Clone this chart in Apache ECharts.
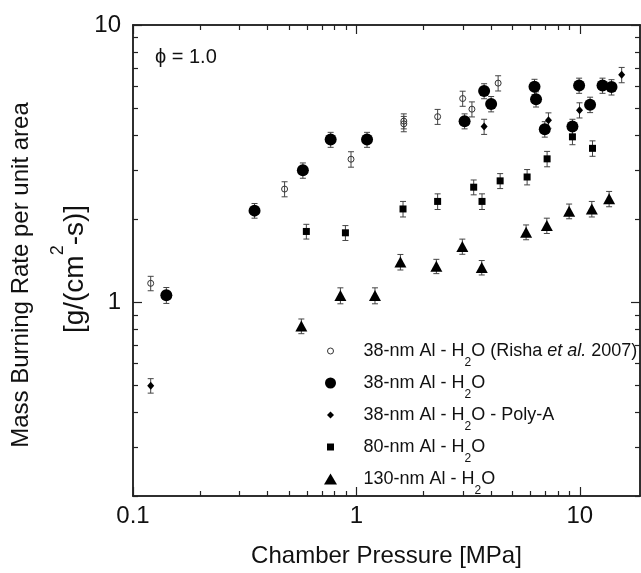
<!DOCTYPE html>
<html>
<head>
<meta charset="utf-8">
<script src="https://cdn.jsdelivr.net/npm/echarts@6/dist/echarts.min.js"></script>
<style>
html,body{margin:0;padding:0;background:#fff;}
#chart{width:641px;height:573px;}
</style>
</head>
<body>
<div id="chart"></div>
<script>
// ---- data (pressure in MPa, mass burning rate in g/(cm2-s)) ----
const rishaX   = [0.12, 0.477, 0.946, 1.63, 1.63, 2.31, 2.99, 3.29, 4.31];
const rishaY   = [1.17, 2.56, 3.28, 4.50, 4.40, 4.67, 5.43, 4.97, 6.17];
const rishaErr = [0.07, 0.16, 0.21, 0.28, 0.28, 0.29, 0.34, 0.31, 0.39];

const al38X   = [0.141, 0.35, 0.576, 0.767, 1.116, 3.05, 3.73, 4.01, 6.27, 6.37, 6.97, 9.27, 9.93, 11.12, 12.64, 13.87];
const al38Y   = [1.06, 2.14, 2.99, 3.86, 3.86, 4.50, 5.78, 5.19, 5.99, 5.40, 4.21, 4.30, 6.05, 5.16, 6.05, 5.97];
const al38Err = [0.07, 0.13, 0.19, 0.24, 0.24, 0.28, 0.36, 0.33, 0.38, 0.34, 0.27, 0.27, 0.38, 0.33, 0.38, 0.38];

const polyX   = [0.12, 3.73, 7.24, 9.97, 15.4];
const polyY   = [0.50, 4.30, 4.53, 4.93, 6.61];
const polyErr = [0.03, 0.27, 0.29, 0.31, 0.42];

const al80X   = [0.597, 0.893, 1.617, 2.31, 3.35, 3.65, 4.40, 5.81, 7.14, 9.27, 11.40];
const al80Y   = [1.80, 1.78, 2.17, 2.31, 2.60, 2.31, 2.74, 2.83, 3.29, 3.95, 3.59];
const al80Err = [0.11, 0.11, 0.14, 0.15, 0.16, 0.15, 0.17, 0.18, 0.21, 0.25, 0.23];

const al130X   = [0.567, 0.848, 1.211, 1.574, 2.28, 2.98, 3.64, 5.75, 7.12, 8.96, 11.32, 13.53];
const al130Y   = [0.82, 1.057, 1.057, 1.397, 1.348, 1.589, 1.334, 1.79, 1.89, 2.13, 2.17, 2.36];
const al130Err = [0.05, 0.07, 0.07, 0.09, 0.08, 0.10, 0.08, 0.11, 0.12, 0.13, 0.14, 0.15];

const seriesNames = [
  '38-nm Al - H2O (Risha et al. 2007)',
  '38-nm Al - H2O',
  '38-nm Al - H2O - Poly-A',
  '80-nm Al - H2O',
  '130-nm Al - H2O'
];

const xMajorTicks = [0.1, 1, 10];
const xMinorTicks = [0.2, 0.3, 0.4, 0.5, 0.6, 0.7, 0.8, 0.9, 2, 3, 4, 5, 6, 7, 8, 9];
const yMajorTicks = [1, 10];
const yMinorTicks = [0.2, 0.3, 0.4, 0.5, 0.6, 0.7, 0.8, 0.9, 2, 3, 4, 5, 6, 7, 8, 9];

const X_MIN = 0.1, X_MAX = 18.6, Y_MIN = 0.2, Y_MAX = 10;

// ---- styles ----
const FONT = '"Liberation Sans", Arial, Helvetica, sans-serif';
const AX = '#222';
const INK = '#000';
const BAR = '#444';

function pts(xs, ys) { return xs.map((x, i) => [x, ys[i]]); }
function bars(xs, ys, es) { return xs.map((x, i) => [x, ys[i] - es[i], ys[i] + es[i]]); }

function errorSeries(name, xs, ys, es) {
  return {
    type: 'custom', name: name + ' err', xAxisIndex: 0, yAxisIndex: 0, z: 1,
    silent: true,
    data: bars(xs, ys, es),
    encode: { x: 0, y: [1, 2] },
    renderItem: function (params, api) {
      const x = api.value(0);
      const top = api.coord([x, api.value(2)]);
      const bot = api.coord([x, api.value(1)]);
      const w = 3;
      const st = { stroke: BAR, lineWidth: 1 };
      return {
        type: 'group',
        children: [
          { type: 'line', shape: { x1: top[0], y1: top[1], x2: bot[0], y2: bot[1] }, style: st },
          { type: 'line', shape: { x1: top[0] - w, y1: top[1], x2: top[0] + w, y2: top[1] }, style: st },
          { type: 'line', shape: { x1: bot[0] - w, y1: bot[1], x2: bot[0] + w, y2: bot[1] }, style: st }
        ]
      };
    }
  };
}

function xAxisDef(pos, ticks, len, labels) {
  return {
    type: 'log', logBase: 10, min: X_MIN, max: X_MAX, position: pos, gridIndex: 0,
    axisLine: { show: true, onZero: false, lineStyle: { color: AX, width: 1.5 } },
    axisTick: { show: true, inside: true, length: len, customValues: ticks, lineStyle: { color: AX, width: 1.2 } },
    axisLabel: labels ? { show: true, customValues: xMajorTicks, fontSize: 24, fontFamily: FONT, color: '#111', margin: 8 } : { show: false },
    splitLine: { show: false },
    name: labels ? 'Chamber Pressure [MPa]' : '',
    nameLocation: 'middle', nameGap: 48,
    nameTextStyle: { fontSize: 24, fontFamily: FONT, color: '#111' }
  };
}
function yAxisDef(pos, ticks, len, labels) {
  return {
    type: 'log', logBase: 10, min: Y_MIN, max: Y_MAX, position: pos, gridIndex: 0,
    axisLine: { show: true, onZero: false, lineStyle: { color: AX, width: 1.5 } },
    axisTick: { show: true, inside: true, length: len, customValues: ticks, lineStyle: { color: AX, width: 1.2 } },
    axisLabel: labels ? { show: true, customValues: yMajorTicks, fontSize: 24, fontFamily: FONT, color: '#111', margin: 12 } : { show: false },
    splitLine: { show: false }
  };
}

// legend icons: a 36x16 box (corner moveTo points fix the box), shape centred at (8,8)
const ICONS = [
  'path://M0,0 M36,16 M5,8 A3,3 0 1,0 11,8 A3,3 0 1,0 5,8 Z',
  'path://M0,0 M36,16 M2.5,8 A5.5,5.5 0 1,0 13.5,8 A5.5,5.5 0 1,0 2.5,8 Z',
  'path://M0,0 M36,16 M8,4.5 L11.5,8 L8,11.5 L4.5,8 Z',
  'path://M0,0 M36,16 M4.5,4.5 L11.5,4.5 L11.5,11.5 L4.5,11.5 Z',
  'path://M0,0 M36,16 M8,2.5 L14.5,13.5 L1.5,13.5 Z'
];
const LABELS = [
  '{t|38-nm Al - H}{s|2}{t|O (Risha }{i|et al.}{t| 2007)}',
  '{t|38-nm Al - H}{s|2}{t|O}',
  '{t|38-nm Al - H}{s|2}{t|O - Poly-A}',
  '{t|80-nm Al - H}{s|2}{t|O}',
  '{t|130-nm Al - H}{s|2}{t|O}'
];

const chart = echarts.init(document.getElementById('chart'), null, { renderer: 'canvas' });
chart.setOption({
  animation: false,
  backgroundColor: '#fff',
  grid: { left: 133, top: 25, right: 1, bottom: 74, containLabel: false },
  xAxis: [
    xAxisDef('bottom', xMajorTicks, 9, true),
    xAxisDef('bottom', xMinorTicks, 5, false),
    xAxisDef('top', xMajorTicks, 9, false),
    xAxisDef('top', xMinorTicks, 5, false)
  ],
  yAxis: [
    yAxisDef('left', yMajorTicks, 9, true),
    yAxisDef('left', yMinorTicks, 5, false),
    yAxisDef('right', yMajorTicks, 9, false),
    yAxisDef('right', yMinorTicks, 5, false)
  ],
  legend: {
    orient: 'vertical', left: 322, top: 342, padding: 0, itemWidth: 36, itemHeight: 16, itemGap: 5,
    selectedMode: false,
    data: seriesNames.map((n, i) => ({
      name: n, icon: ICONS[i],
      itemStyle: i === 0 ? { color: 'rgba(0,0,0,0)', borderColor: '#333', borderWidth: 1 } : { color: INK, borderWidth: 0 }
    })),
    formatter: function (name) { return LABELS[seriesNames.indexOf(name)]; },
    textStyle: {
      fontFamily: FONT, fontSize: 18, color: '#111',
      rich: {
        t: { fontFamily: FONT, fontSize: 18, color: '#111' },
        i: { fontFamily: FONT, fontSize: 18, color: '#111', fontStyle: 'italic' },
        s: { fontFamily: FONT, fontSize: 12, color: '#111', padding: [24, 0, 0, 0] }
      }
    }
  },
  graphic: [
    { type: 'text', x: 155, y: 57, style: { text: 'ϕ = 1.0', fontFamily: FONT, fontSize: 20, fill: '#111', align: 'left', verticalAlign: 'middle' } },
    { type: 'text', x: 21, y: 275, rotation: Math.PI / 2,
      style: { text: 'Mass Burning Rate per unit area', fontFamily: FONT, fontSize: 24, fill: '#111', align: 'center', verticalAlign: 'middle' } },
    { type: 'text', x: 75, y: 269, rotation: Math.PI / 2,
      style: { text: '{a|[g/(cm}{b|2}{a|-s)]}', align: 'center', verticalAlign: 'middle',
        rich: {
          a: { fontFamily: FONT, fontSize: 28, fill: '#111', color: '#111' },
          b: { fontFamily: FONT, fontSize: 18, fill: '#111', color: '#111', padding: [0, 0, 34, 0] }
        } } }
  ],
  series: [
    errorSeries(seriesNames[0], rishaX, rishaY, rishaErr),
    errorSeries(seriesNames[1], al38X, al38Y, al38Err),
    errorSeries(seriesNames[2], polyX, polyY, polyErr),
    errorSeries(seriesNames[3], al80X, al80Y, al80Err),
    errorSeries(seriesNames[4], al130X, al130Y, al130Err),
    { type: 'scatter', name: seriesNames[0], z: 3, symbol: 'circle', symbolSize: 6,
      itemStyle: { color: 'rgba(0,0,0,0)', borderColor: '#333', borderWidth: 1, opacity: 1 },
      data: pts(rishaX, rishaY) },
    { type: 'scatter', name: seriesNames[1], z: 3, symbol: 'circle', symbolSize: 12,
      itemStyle: { color: INK, opacity: 1 }, data: pts(al38X, al38Y) },
    { type: 'scatter', name: seriesNames[2], z: 3, symbol: 'diamond', symbolSize: [7, 8],
      itemStyle: { color: INK, opacity: 1 }, data: pts(polyX, polyY) },
    { type: 'scatter', name: seriesNames[3], z: 3, symbol: 'rect', symbolSize: 7,
      itemStyle: { color: INK, opacity: 1 }, data: pts(al80X, al80Y) },
    { type: 'scatter', name: seriesNames[4], z: 3, symbol: 'triangle', symbolSize: [12, 11],
      itemStyle: { color: INK, opacity: 1 }, data: pts(al130X, al130Y) }
  ]
});
</script>
</body>
</html>
